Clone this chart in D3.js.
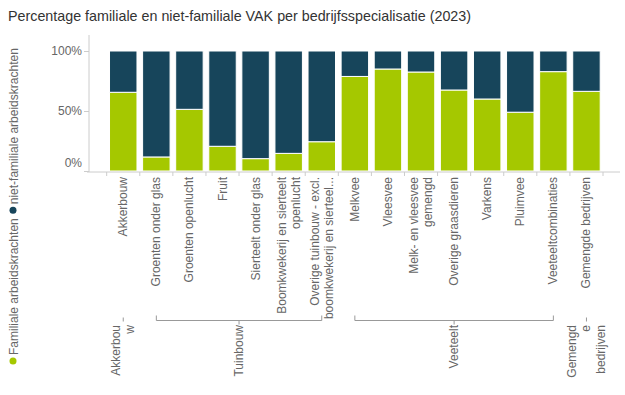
<!DOCTYPE html>
<html>
<head>
<meta charset="utf-8">
<script src="https://cdn.jsdelivr.net/npm/d3@7"></script>
<style>
  body { margin: 0; background: #fff; }
  svg { font-family: "Liberation Sans", Arial, sans-serif; }
</style>
</head>
<body>
<svg id="chart" width="625" height="395"></svg>
<script>
const categories = [
  'Akkerbouw', 'Groenten onder glas', 'Groenten openlucht', 'Fruit', 'Sierteelt onder glas',
  'Boomkwekerij en sierteelt\nopenlucht', 'Overige tuinbouw - excl.\nboomkwekerij en sierteel...',
  'Melkvee', 'Vleesvee', 'Melk- en vleesvee\ngemengd', 'Overige graasdieren', 'Varkens',
  'Pluimvee', 'Veeteeltcombinaties', 'Gemengde bedrijven'
]
const groupNames = ['Akkerbou\nw', 'Tuinbouw', 'Veeteelt', 'Gemengd\ne\nbedrijven']
const groupSizes = [1, 6, 7, 1]

const familiale = [65.6, 11.7, 51.4, 20.6, 10.3, 14.7, 24.4, 78.8, 85.0, 82.5, 67.5, 60.0, 49.0, 82.8, 66.4]
const nietFamiliale = [34.4, 88.3, 48.6, 79.4, 89.7, 85.3, 75.6, 21.2, 15.0, 17.5, 32.5, 40.0, 51.0, 17.2, 33.6]

const seriesNames = ['Familiale arbeidskrachten', 'niet-familiale arbeidskrachten']
const yTicks = [0, 50, 100]

const green = '#a5c800'
const dark = '#17455b'
const textColor = '#666'

const svg = d3.select('#chart')

svg.append('text').text('Percentage familiale en niet-familiale VAK per bedrijfsspecialisatie (2023)')
  .attr('x', 8).attr('y', 21).attr('font-size', 14.3).attr('fill', '#333')

const x = d3.scaleBand().domain(categories).range([106.7, 603])
const y = d3.scaleLinear().domain([0, 100]).range([171, 51])
const bw = x.bandwidth()
const barW = bw * 0.83

const rows = categories.map((c, i) => ({cat: c, fam: familiale[i], niet: nietFamiliale[i]}))
const stacked = d3.stack().keys(['fam', 'niet'])(rows)
const colors = [green, dark]

svg.append('g').selectAll('g').data(stacked).enter().append('g')
  .attr('fill', (d, i) => colors[i])
  .selectAll('rect').data(d => d).enter().append('rect')
  .attr('x', d => x(d.data.cat) + (bw - barW) / 2)
  .attr('width', barW)
  .attr('y', d => y(d[1]))
  .attr('height', d => y(d[0]) - y(d[1]))
  .attr('stroke', '#fff').attr('stroke-width', 1)

// y axis
const yAxis = svg.append('g').attr('transform', 'translate(89,0)')
  .call(d3.axisLeft(y).tickValues(yTicks).tickFormat(d => d + '%').tickSize(5).tickPadding(2))
yAxis.select('.domain').remove()
yAxis.selectAll('.tick line').attr('stroke', '#ccc')
yAxis.selectAll('.tick text').attr('font-size', 12).attr('fill', textColor)
  .attr('font-family', '"Liberation Sans", Arial, sans-serif')
  .attr('dy', d => d === 0 ? '-0.35em' : '0.32em')
svg.append('line').attr('x1', 89).attr('x2', 89).attr('y1', 35).attr('y2', 172).attr('stroke', '#ccc')

// x axis
svg.append('line').attr('x1', 87).attr('x2', 620).attr('y1', 172).attr('y2', 172).attr('stroke', '#ccc')
const bounds = categories.map(c => x(c)).concat([x(categories[categories.length - 1]) + bw])
svg.append('g').selectAll('line').data(bounds).enter().append('line')
  .attr('x1', d => d).attr('x2', d => d).attr('y1', 172).attr('y2', 176).attr('stroke', '#ccc')

const catLabels = svg.append('g').selectAll('g').data(categories).enter().append('g')
  .attr('transform', c => `translate(${x(c) + bw / 2},177) rotate(-90)`)
catLabels.each(function (c) {
  const lines = c.split('\n')
  const t = d3.select(this).append('text').attr('text-anchor', 'end')
    .attr('font-size', 12).attr('fill', textColor)
  lines.forEach((l, i) => {
    t.append('tspan').attr('x', 0).attr('y', (i - (lines.length - 1) / 2) * 14 + 4).text(l)
  })
})

// group labels
let start = 0
const groups = groupNames.map((g, i) => {
  const first = categories[start]
  const last = categories[start + groupSizes[i] - 1]
  start += groupSizes[i]
  return {name: g, x1: x(first) + bw / 2, x2: x(last) + bw / 2, size: groupSizes[i]}
})
const gy = 320.5
const grp = svg.append('g').attr('stroke', '#999').attr('fill', 'none')
groups.forEach(g => {
  const cx = (g.x1 + g.x2) / 2
  if (g.size > 1) {
    grp.append('path').attr('d', `M${g.x1},${gy - 5}V${gy}H${g.x2}V${gy - 5}`)
    grp.append('line').attr('x1', cx).attr('x2', cx).attr('y1', gy).attr('y2', gy + 4)
  } else {
    grp.append('line').attr('x1', cx).attr('x2', cx).attr('y1', gy - 3).attr('y2', gy + 1)
  }
  const lines = g.name.split('\n')
  const t = svg.append('text').attr('text-anchor', 'end').attr('font-size', 12).attr('fill', textColor)
    .attr('transform', `translate(${cx},325) rotate(-90)`)
  lines.forEach((l, i) => {
    t.append('tspan').attr('x', 0).attr('y', (i - (lines.length - 1) / 2) * 14.5 + 4).text(l)
  })
})

// legend (vertical, rotated)
const legend = svg.append('g').attr('transform', 'translate(13,361) rotate(-90)')
let lx = 0
seriesNames.forEach((name, i) => {
  legend.append('circle').attr('cx', lx).attr('cy', 0).attr('r', 3.5).attr('fill', colors[i])
  const t = legend.append('text').attr('x', lx + 6).attr('y', 4.5).attr('font-size', 12)
    .attr('fill', textColor).text(name)
  lx += 6 + t.node().getComputedTextLength() + 8
})
</script>
</body>
</html>
